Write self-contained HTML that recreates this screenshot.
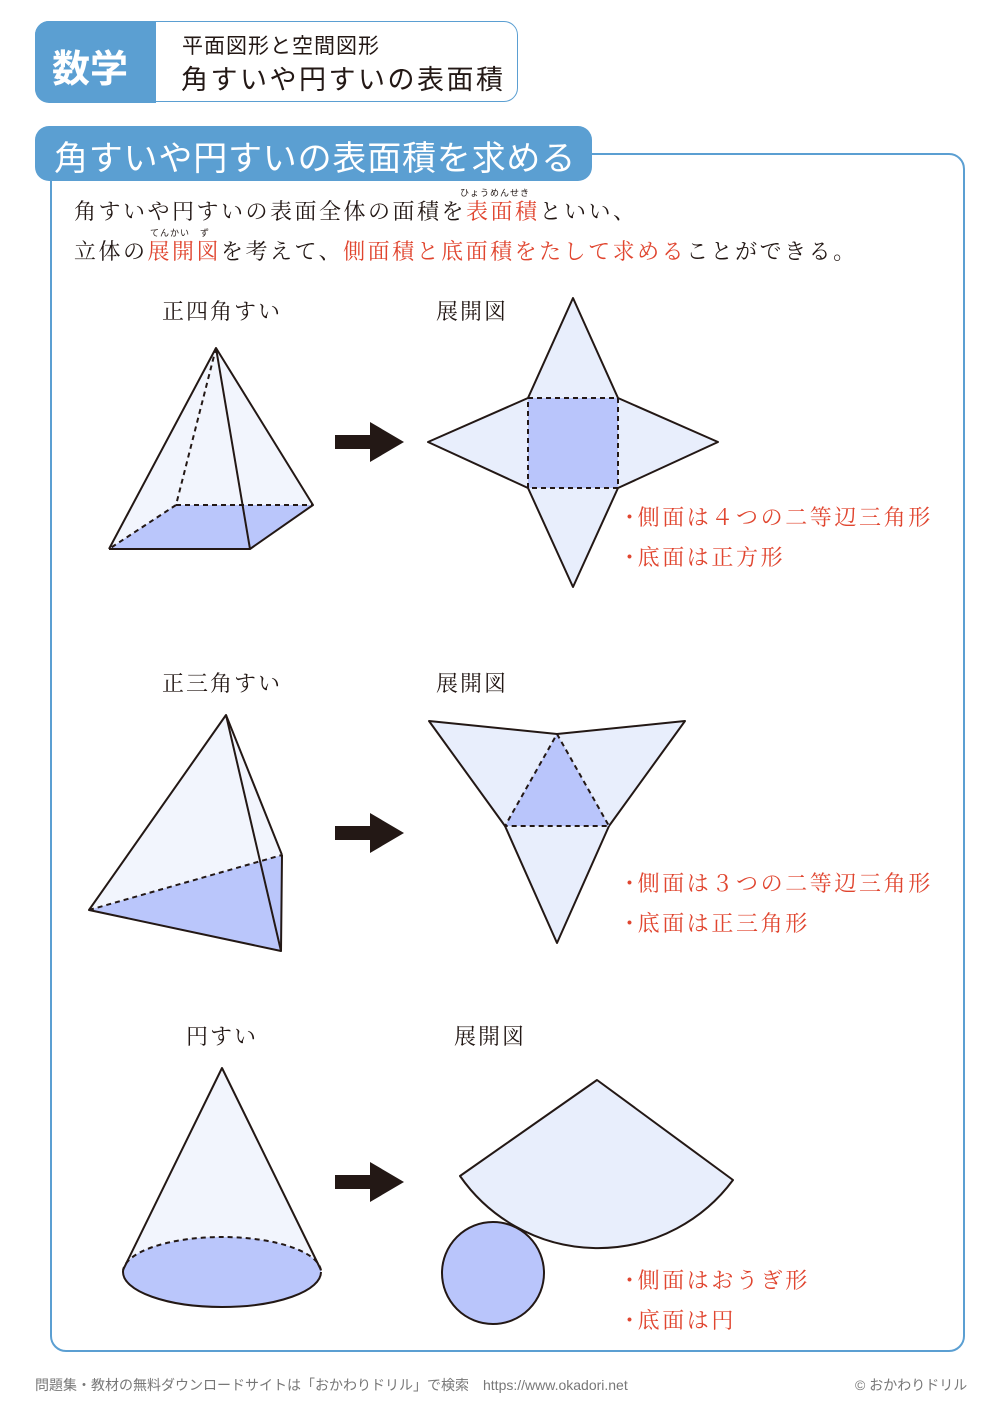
<!DOCTYPE html>
<html><head><meta charset="utf-8"><style>
body{margin:0;width:1000px;height:1415px;background:#fff;position:relative;overflow:hidden;font-family:"Liberation Serif","Noto Serif CJK SC",serif;color:#231815}
.a{position:absolute;white-space:nowrap}
.r{color:#e0452f}
.s{font-family:"Liberation Sans","Noto Sans CJK JP",sans-serif}
.l{letter-spacing:2px}
.n{letter-spacing:2.6px}
</style></head><body>
<div class="a" style="left:35px;top:21px;width:481px;height:79px;border:1.5px solid #5b9fd2;border-radius:14px;background:#fff"></div>
<div class="a" style="left:35px;top:21px;width:121px;height:82px;background:#5b9fd2;border-radius:14px 0 0 14px"></div>
<div class="a s" style="left:52px;top:38px;font-size:38px;color:#fff;font-weight:bold">数学</div>
<div class="a s" style="left:182px;top:30px;font-size:21px;letter-spacing:1px">平面図形と空間図形</div>
<div class="a s" style="left:181px;top:58px;font-size:27px;letter-spacing:2.5px">角すいや円すいの表面積</div>

<div class="a" style="left:50px;top:153px;width:911px;height:1195px;border:2px solid #5b9fd2;border-radius:16px"></div>
<div class="a" style="left:35px;top:126px;width:557px;height:55px;background:#5b9fd2;border-radius:14px"></div>
<div class="a s" style="left:54px;top:131px;font-size:34px;color:#fff;letter-spacing:0.8px">角すいや円すいの表面積を求める</div>

<div class="a s" style="left:460px;top:186px;font-size:9px;letter-spacing:1px">ひょうめんせき</div>
<div class="a" style="left:74px;top:195px;font-size:22px;letter-spacing:2.5px">角すいや円すいの表面全体の面積を<span class="r">表面積</span>といい、</div>
<div class="a s" style="left:150px;top:226px;font-size:9px;letter-spacing:1px">てんかい　ず</div>
<div class="a" style="left:74px;top:235px;font-size:22px;letter-spacing:2.5px">立体の<span class="r">展開図</span>を考えて、<span class="r">側面積と底面積をたして求める</span>ことができる。</div>

<div class="a l" style="left:162px;top:295px;font-size:22px">正四角すい</div>
<div class="a l" style="left:436px;top:295px;font-size:22px">展開図</div>
<div class="a l" style="left:162px;top:667px;font-size:22px">正三角すい</div>
<div class="a l" style="left:436px;top:667px;font-size:22px">展開図</div>
<div class="a l" style="left:186px;top:1020px;font-size:22px">円すい</div>
<div class="a l" style="left:454px;top:1020px;font-size:22px">展開図</div>

<div class="a r n" style="left:624px;top:501px;font-size:22px">･側面は４つの二等辺三角形</div>
<div class="a r n" style="left:624px;top:541px;font-size:22px">･底面は正方形</div>
<div class="a r n" style="left:624px;top:867px;font-size:22px">･側面は３つの二等辺三角形</div>
<div class="a r n" style="left:624px;top:907px;font-size:22px">･底面は正三角形</div>
<div class="a r n" style="left:624px;top:1264px;font-size:22px">･側面はおうぎ形</div>
<div class="a r n" style="left:624px;top:1304px;font-size:22px">･底面は円</div>

<svg class="a" style="left:0;top:0" width="1000" height="1415" stroke="#231815" stroke-width="2" stroke-linejoin="round">
<polygon points="216,348 109,549 250,549 313,505" fill="#f2f5fd" stroke="none"/>
<polygon points="109,549 176,505 313,505 250,549" fill="#bac6fb" stroke="none"/>
<g stroke-dasharray="5,4"><line x1="216" y1="348" x2="176" y2="505"/><line x1="176" y1="505" x2="109" y2="549"/><line x1="176" y1="505" x2="313" y2="505"/></g>
<polyline points="109,549 216,348 313,505 250,549 109,549" fill="none"/>
<line x1="216" y1="348" x2="250" y2="549"/>
<g fill="#231815" stroke="none">
<polygon points="335,435 370,435 370,422 404,442 370,462 370,449 335,449"/>
<polygon points="335,826 370,826 370,813 404,833 370,853 370,840 335,840"/>
<polygon points="335,1175 370,1175 370,1162 404,1182 370,1202 370,1189 335,1189"/>
</g>
<polygon points="573,298 618,398 718,442 618,488 573,587 528,488 428,442 528,398" fill="#e8eefc"/>
<rect x="528" y="398" width="90" height="90" fill="#b9c5fb" stroke-dasharray="5,4"/>
<polygon points="226,715 89,910 281,951 282,855" fill="#f2f5fd" stroke="none"/>
<polygon points="89,910 282,855 281,951" fill="#bac6fb" stroke="none"/>
<line x1="89" y1="910" x2="282" y2="855" stroke-dasharray="5,4"/>
<polyline points="282,855 226,715 89,910 281,951 282,855" fill="none"/>
<line x1="226" y1="715" x2="281" y2="951"/>
<polygon points="429,721 557,734 685,721 609,826 557,943 505,826" fill="#e8eefc"/>
<polygon points="557,734 609,826 505,826" fill="#b9c5fb" stroke-dasharray="5,4"/>
<path d="M222,1068 L123,1270 A99,35 0 0 0 321,1270 Z" fill="#f2f5fd" stroke="none"/>
<ellipse cx="222" cy="1272" rx="99" ry="35" fill="#bac6fb" stroke="none"/>
<path d="M123,1272 A99,35 0 0 1 321,1272" fill="none" stroke-dasharray="5,4"/>
<path d="M123,1272 A99,35 0 0 0 321,1272" fill="none"/>
<polyline points="123,1270 222,1068 321,1270" fill="none"/>
<path d="M597,1080 L460,1176 A168,168 0 0 0 733,1180 Z" fill="#e8eefc"/>
<circle cx="493" cy="1273" r="51" fill="#b9c5fb"/>
</svg>

<div class="a s" style="left:35px;top:1375px;font-size:14px;color:#777">問題集・教材の無料ダウンロードサイトは「おかわりドリル」で検索　https://www.okadori.net</div>
<div class="a s" style="left:855px;top:1375px;font-size:14px;color:#777">© おかわりドリル</div>
</body></html>
